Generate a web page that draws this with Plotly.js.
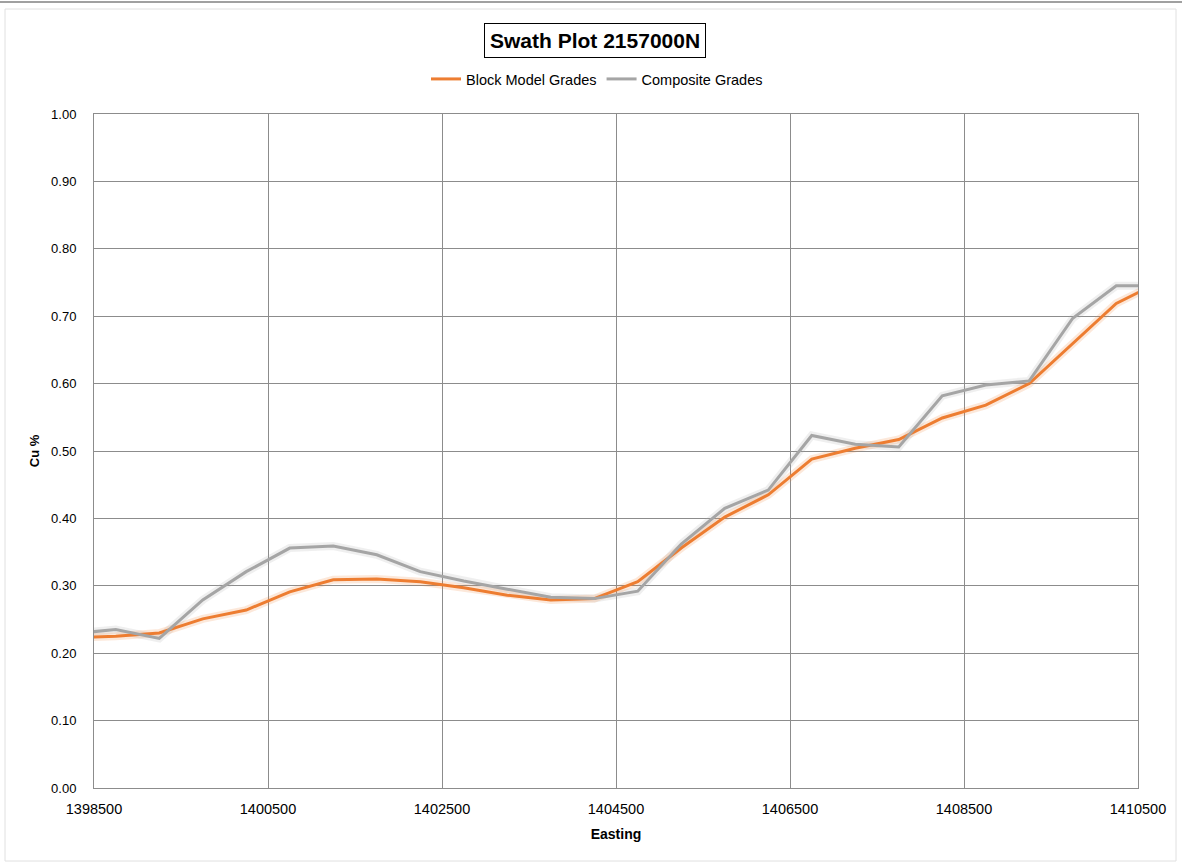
<!DOCTYPE html>
<html>
<head>
<meta charset="utf-8">
<script src="https://cdn.plot.ly/plotly-3.0.1.min.js"></script>
<style>html,body{margin:0;padding:0;background:#fff;}#chart{width:1182px;height:863px;}</style>
</head>
<body>
<div id="chart"></div>
<script>
// Easting of each swath centre
const easting = [1398250, 1398750, 1399250, 1399750, 1400250, 1400750, 1401250, 1401750, 1402250, 1402750,
                 1403250, 1403750, 1404250, 1404750, 1405250, 1405750, 1406250, 1406750, 1407250, 1407750,
                 1408250, 1408750, 1409250, 1409750, 1410250, 1410750];
// Cu % grades
const blockModelGrades = [0.223, 0.225, 0.230, 0.251, 0.264, 0.291, 0.309, 0.310, 0.306, 0.297,
                          0.286, 0.279, 0.281, 0.306, 0.356, 0.402, 0.435, 0.488, 0.504, 0.517,
                          0.549, 0.568, 0.600, 0.659, 0.719, 0.751];
const compositeGrades = [0.229, 0.235, 0.222, 0.279, 0.321, 0.356, 0.359, 0.346, 0.321, 0.307,
                         0.295, 0.283, 0.281, 0.292, 0.362, 0.415, 0.442, 0.523, 0.510, 0.506,
                         0.582, 0.598, 0.604, 0.697, 0.745, 0.745];
const seriesNames = ["Block Model Grades", "Composite Grades"];
const xTickVals = [1398500, 1400500, 1402500, 1404500, 1406500, 1408500, 1410500];
const yTickVals = [0, 0.1, 0.2, 0.3, 0.4, 0.5, 0.6, 0.7, 0.8, 0.9, 1.0];

const orange = "#ED7D31", grey = "#A5A5A5";
const font = "Liberation Sans, Arial, sans-serif";

const traces = [
  {x: easting, y: compositeGrades, mode: "lines", showlegend: false, hoverinfo: "skip",
   line: {color: grey, width: 8}, opacity: 0.18},
  {x: easting, y: blockModelGrades, mode: "lines", showlegend: false, hoverinfo: "skip",
   line: {color: orange, width: 8}, opacity: 0.18},
  {x: easting, y: blockModelGrades, mode: "lines", name: seriesNames[0],
   line: {color: orange, width: 3}},
  {x: easting, y: compositeGrades, mode: "lines", name: seriesNames[1],
   line: {color: grey, width: 3}}
];

function px2x(px){ return (px - 94) / 1044; }
function px2y(py){ return (788 - py) / 674; }

const layout = {
  width: 1182, height: 863,
  margin: {l: 94, r: 44, t: 114, b: 75},
  paper_bgcolor: "#ffffff", plot_bgcolor: "#ffffff",
  font: {family: font, color: "#000"},
  showlegend: true,
  legend: {orientation: "h", x: px2x(597), xanchor: "center", y: px2y(79), yanchor: "middle",
           font: {size: 14.5, family: font, color: "#000"}, traceorder: "normal", itemwidth: 30},
  xaxis: {
    range: [1398500, 1410500], tickvals: xTickVals, ticktext: xTickVals.map(String),
    showgrid: true, gridcolor: "#8c8c8c", gridwidth: 1,
    showline: true, linecolor: "#8c8c8c", linewidth: 1, mirror: true,
    zeroline: false, ticks: "", ticklabelstandoff: 8,
    tickfont: {size: 14.5, family: font, color: "#000"},
    title: {text: "<b>Easting</b>", font: {size: 14, family: font, color: "#000"}, standoff: 12}
  },
  yaxis: {
    range: [0, 1], tickvals: yTickVals, tickformat: ".2f",
    showgrid: true, gridcolor: "#8c8c8c", gridwidth: 1,
    showline: true, linecolor: "#8c8c8c", linewidth: 1, mirror: true,
    zeroline: false, ticks: "", ticklabelstandoff: 14,
    tickfont: {size: 13, family: font, color: "#000"},
    title: {text: "<b>Cu %</b>", font: {size: 13, family: font, color: "#000"}, standoff: 8}
  },
  annotations: [{
    xref: "paper", yref: "paper", x: px2x(595), y: px2y(40), xanchor: "center", yanchor: "middle",
    text: "<b>Swath Plot 2157000N</b>", showarrow: false,
    font: {size: 21, family: font, color: "#000"},
    bordercolor: "#000", borderwidth: 1, borderpad: 5, bgcolor: "#fff"
  }],
  shapes: [
    {type: "line", xref: "paper", yref: "paper", x0: px2x(0), x1: px2x(1182), y0: px2y(2), y1: px2y(2),
     line: {color: "#a0a0a0", width: 2}},
    {type: "rect", xref: "paper", yref: "paper", x0: px2x(5), x1: px2x(1176), y0: px2y(9), y1: px2y(861),
     line: {color: "#e0e0e0", width: 1}, layer: "below"}
  ]
};

Plotly.newPlot("chart", traces, layout, {displayModeBar: false, staticPlot: true});
</script>
</body>
</html>
